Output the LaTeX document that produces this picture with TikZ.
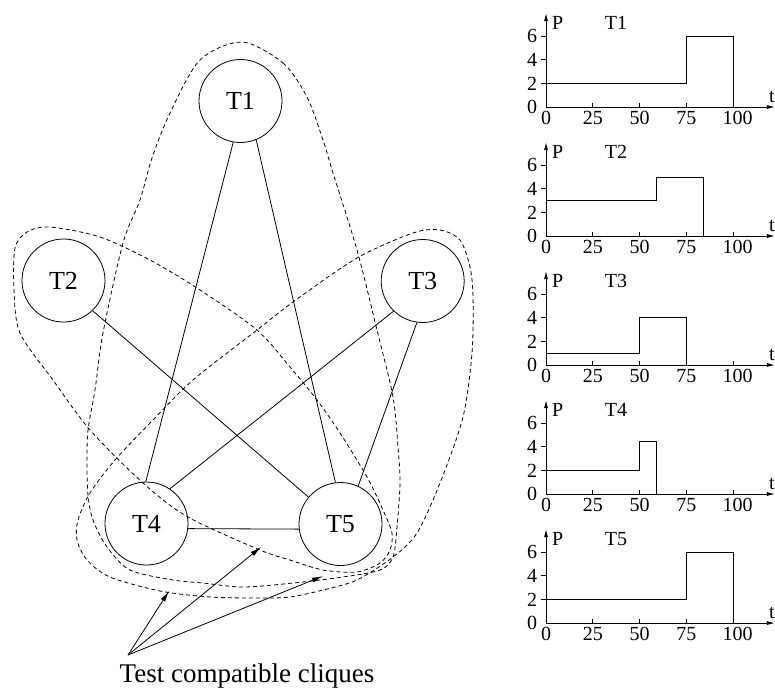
\documentclass[tikz,border=0pt]{standalone}
\usepackage{fontspec}
\setmainfont{Liberation Serif}
\usetikzlibrary{arrows.meta}
\begin{document}
\begin{tikzpicture}[x=1pt,y=-1pt,
  task/.style={circle,draw,line width=0.8pt,minimum size=83pt,inner sep=0pt,
    font=\fontsize{26}{26}\selectfont},
  link/.style={line width=0.8pt},
  clique/.style={line width=0.8pt,dash pattern=on 4pt off 3pt},
  pointer/.style={line width=0.8pt,-{Latex[length=11pt,width=5pt]}},
  axis/.style={line width=0.8pt,-{Latex[length=8pt,width=4pt]}},
  curve/.style={line width=0.8pt},
  lbl/.style={font=\fontsize{20}{20}\selectfont,inner sep=0pt}]
\useasboundingbox (0,0) rectangle (775,689);

% task graph
\node[task] (T1) at (240.5,101) {T1};
\node[task] (T2) at (63.5,280.5) {T2};
\node[task] (T3) at (422.7,281) {T3};
\node[task] (T4) at (146.5,523.5) {T4};
\node[task] (T5) at (340.5,524) {T5};

\draw[link] (T1.-100) -- (T4.91);
\draw[link] (T1.-68) -- (T5.97);
\draw[link] (T2.-46) -- (T5.140);
\draw[link] (T3.-134) -- (T4.56);
\draw[link] (T3.-98) -- (T5.65);
\draw[link] (T4.-7) -- (T5.-173);

% clique {T1,T4,T5}
\draw[clique] plot[smooth cycle] coordinates {
  (242,42) (283,63) (307,97) (323,140) (333,173) (357,250) (377,330)
  (393,397) (398,447) (400,483) (397,527) (393,557) (380,570) (343,577)
  (293,583) (243,587) (203,583) (173,580) (130,570) (107,547) (93,520)
  (88,495) (87,463) (88,430) (95,390) (103,333) (123,243) (140,200)
  (152,158) (170,113) (200,60)};
% clique {T2,T5}
\draw[clique] plot[smooth cycle] coordinates {
  (50,227) (100,237) (150,260) (200,290) (257,330) (290,367) (317,400)
  (340,433) (367,477) (383,510) (392,533) (390,550) (380,563) (357,572)
  (323,570) (290,560) (260,550) (188,517) (143,483) (90,430) (53,380)
  (20,333) (14,290) (15,248) (27,232)};
% clique {T3,T4,T5}
\draw[clique] plot[smooth cycle] coordinates {
  (413,233) (440,230) (460,240) (470,267) (473,297) (472,353) (463,417)
  (440,483) (417,533) (393,557) (357,580) (323,590) (290,597) (260,598)
  (210,597) (160,591) (110,577) (87,560) (77,540) (78,520) (90,493)
  (115,460) (152,421) (193,380) (257,330) (293,302) (357,258)};

% caption with pointers
\coordinate (src) at (128,655);
\coordinate (c1) at (169,591);
\coordinate (c2) at (261,547);
\coordinate (c3) at (323,576);
\draw[pointer] (src) -- (c1);
\draw[pointer] (src) -- (c2);
\draw[pointer] (src) -- (c3);
\node[font=\fontsize{27}{27}\selectfont,inner sep=0pt,anchor=base] (cap) at (247,682)
  {Test compatible cliques};

% power profiles
\foreach \i/\name/\lo/\ta/\hi/\tb in
  {0/T1/2/75/6/100, 1/T2/3/59/5/84, 2/T3/1/50/4/75, 3/T4/2/50/4.5/59, 4/T5/2/75/6/100} {
  \begin{scope}[shift={(546,107+129*\i)},x=1.87pt,y=11.8pt]
    \draw[axis] (0,0) -- (0,7.95);
    \draw[axis] (0,0) -- (122.4,0);
    \foreach \v in {2,4,6} \draw[curve] (0,\v) -- (-2.6,\v);
    \foreach \v in {25,50,75,100} \draw[curve] (\v,0) -- (\v,0.35);
    \foreach \v in {0,2,4,6}
      \node[lbl,anchor=east] (py\i-\v) at (-4.6,\v) {\v};
    \foreach \v/\p in {0/0,25/25,50/50,75/75,100/102.5}
      \node[lbl,anchor=north] (px\i-\v) at (\p,-0.35) {\v};
    \node[lbl,anchor=west] (pp\i) at (3.2,7.15) {P};
    \node[lbl] (pn\i) at (37.4,7.15) {\name};
    \node[lbl,anchor=east] (pt\i) at (122.4,0.85) {t};
    \draw[curve] (0,\lo) -- (\ta,\lo) -- (\ta,\hi) -- (\tb,\hi) -- (\tb,0);
  \end{scope}
}
\end{tikzpicture}
\end{document}
